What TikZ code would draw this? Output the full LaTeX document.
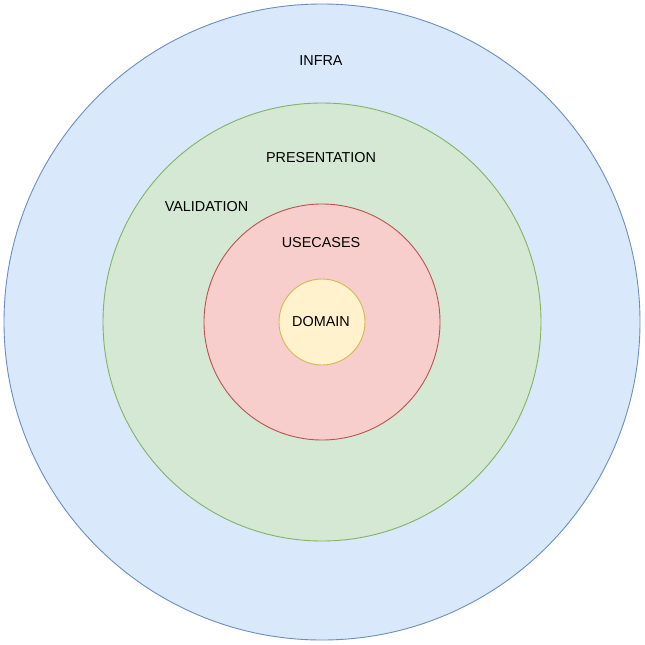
\documentclass[tikz,border=0pt]{standalone}
\usepackage{fontspec}
\setmainfont{Liberation Sans}
\usepackage{tikz}

\begin{document}
\begin{tikzpicture}[x=1pt,y=-1pt,
  layer/.style={circle,inner sep=0pt,line width=0.9pt},
  tag/.style={font=\fontsize{14.4}{15}\selectfont,text height=10.3pt,text depth=0pt,inner sep=0pt}]
\definecolor{infrafill}{RGB}{218,232,252}
\definecolor{infraline}{RGB}{108,142,191}
\definecolor{presfill}{RGB}{213,232,212}
\definecolor{presline}{RGB}{130,179,102}
\definecolor{usefill}{RGB}{248,206,204}
\definecolor{useline}{RGB}{184,84,80}
\definecolor{domfill}{RGB}{255,242,204}
\definecolor{domline}{RGB}{214,182,86}
\useasboundingbox (0,0) rectangle (645,645);
% rings
\node [layer,fill=infrafill,draw=infraline,minimum size=636pt] (infra) at (322,322) {};
\node [layer,fill=presfill,draw=presline,minimum size=438pt] (pres) at (322,322) {};
\node [layer,fill=usefill,draw=useline,minimum size=236pt] (use) at (322,322) {};
\node [layer,fill=domfill,draw=domline,minimum size=86pt] (dom) at (322,322) {};
% labels
\node [tag] (infratag) at (321,60.5) {INFRA};
\node [tag] (prestag) at (321,157.5) {PRESENTATION};
\node [tag] (validtag) at (206.5,206) {VALIDATION};
\node [tag] (usetag) at (321,242.3) {USECASES};
\node [tag] (domtag) at (321,321) {DOMAIN};
\end{tikzpicture}
\end{document}
